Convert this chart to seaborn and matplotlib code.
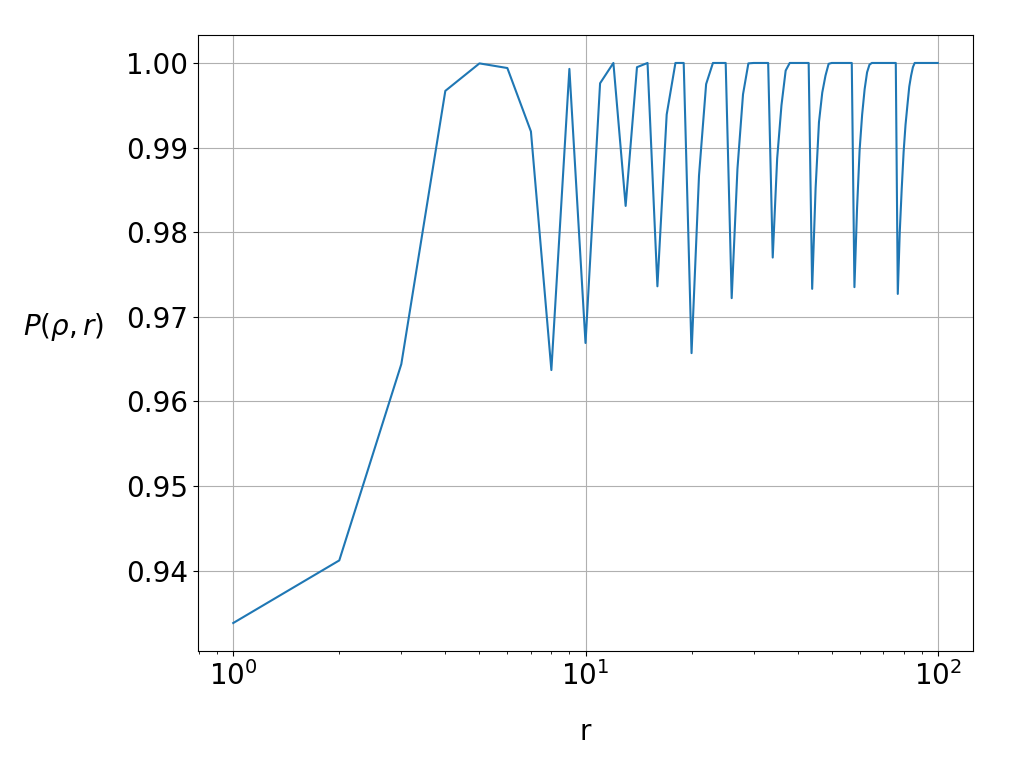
import numpy as np
import pandas as pd
import seaborn as sns
import matplotlib
matplotlib.use("Agg")
import matplotlib.pyplot as plt

# r = 1..100
r = np.arange(1, 101)
p_1_20 = [0.9338, 0.9412, 0.9644, 0.9967, 0.99995, 0.9994, 0.9919, 0.9637, 0.9993, 0.9669,
          0.9976, 1.0000, 0.9831, 0.9995, 1.0000, 0.9736, 0.9939, 1.0000, 1.0000, 0.9657]
p_21_40 = [0.9867, 0.9975, 1.0000, 1.0000, 1.0000, 0.9722, 0.9875, 0.9963, 0.99995, 1.0000,
           1.0000, 1.0000, 1.0000, 0.9770, 0.9887, 0.9950, 0.9991, 1.0000, 1.0000, 1.0000]
p_41_60 = [1.0000, 1.0000, 1.0000, 0.9733, 0.9852, 0.9930, 0.9965, 0.9985, 0.9999, 1.0000,
           1.0000, 1.0000, 1.0000, 1.0000, 1.0000, 1.0000, 1.0000, 0.9735, 0.9828, 0.9897]
p_61_80 = [0.9939, 0.9969, 0.9989, 0.9998, 1.0000, 1.0000, 1.0000, 1.0000, 1.0000, 1.0000,
           1.0000, 1.0000, 1.0000, 1.0000, 1.0000, 1.0000, 0.9727, 0.9800, 0.9851, 0.9895]
p_81_100 = [0.9927, 0.9950, 0.9972, 0.9985, 0.9995, 1.0000, 1.0000, 1.0000, 1.0000, 1.0000,
            1.0000, 1.0000, 1.0000, 1.0000, 1.0000, 1.0000, 1.0000, 1.0000, 1.0000, 1.0000]

df = pd.DataFrame({"r": r, "P": p_1_20 + p_21_40 + p_41_60 + p_61_80 + p_81_100})

plt.rcParams.update({
    "font.size": 20,
    "xtick.labelsize": 20,
    "ytick.labelsize": 20,
})

fig, ax = plt.subplots(figsize=(10.34, 7.6), dpi=100)
fig.subplots_adjust(left=0.1915, right=0.941, top=0.954, bottom=0.1434)

sns.lineplot(data=df, x="r", y="P", color="#1f77b4", linewidth=1.5, ax=ax)
ax.set_xscale("log")
ax.grid(True, which="major", color="#b0b0b0", linewidth=0.8)
ax.set_yticks([0.94, 0.95, 0.96, 0.97, 0.98, 0.99, 1.00])
ax.set_yticklabels(["0.94", "0.95", "0.96", "0.97", "0.98", "0.99", "1.00"])

ax.set_xlabel("r", fontsize=20, labelpad=20)
ax.set_ylabel(r"$P(\rho, r)$", fontsize=20, rotation=0, labelpad=45)

fig.savefig("out.png", dpi=100)
